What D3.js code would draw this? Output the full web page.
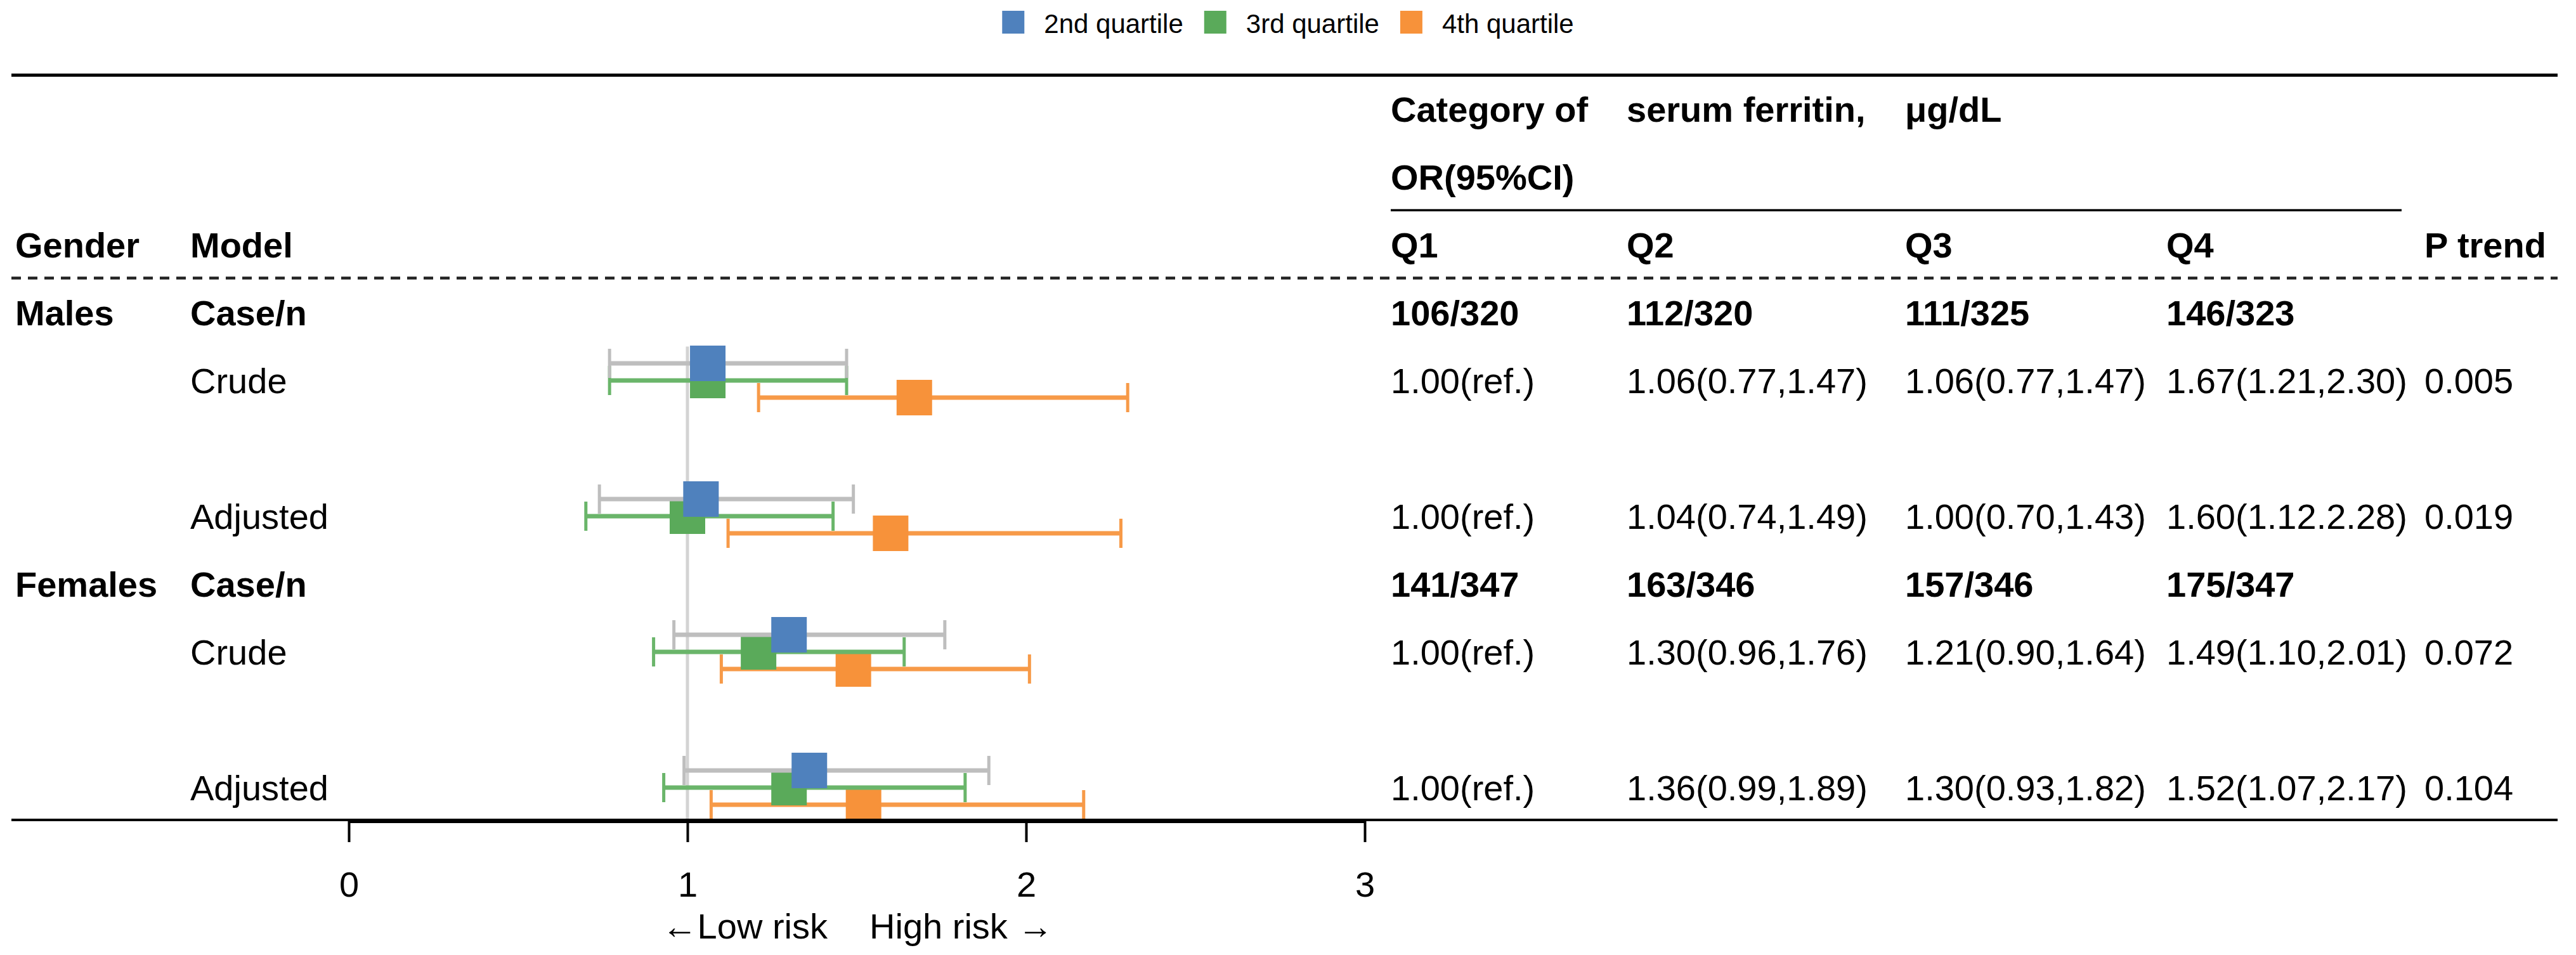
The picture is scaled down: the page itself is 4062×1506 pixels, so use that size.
<!DOCTYPE html>
<html>
<head>
<meta charset="utf-8">
<script src="https://cdn.jsdelivr.net/npm/d3@7"></script>
<style>
  html, body { margin: 0; padding: 0; background: #ffffff; }
  svg { display: block; }
  text { font-family: "Liberation Sans", Arial, Helvetica, sans-serif; fill: #000; }
</style>
</head>
<body>
<svg id="chart" width="4062" height="1506"></svg>
<script>
// ---------------- DATA ----------------
const legendLabels = ["2nd quartile", "3rd quartile", "4th quartile"];
const squareColors = ["#4F81BD", "#5AAA5A", "#F7923A"];
const ciColors = ["#BEBEBE", "#6AB56A", "#F79A48"];

const titleParts = ["Category of", "serum ferritin,", "\u03BCg/dL"];
const subTitle = "OR(95%CI)";
const columnHeaders = ["Gender", "Model", "Q1", "Q2", "Q3", "Q4", "P trend"];

const genders = ["Males", "Females"];
const caseLabel = "Case/n";
const models = ["Crude", "Adjusted"];

const caseN = [
  ["106/320", "112/320", "111/325", "146/323"],
  ["141/347", "163/346", "157/346", "175/347"]
];
const orText = [
  [
    ["1.00(ref.)", "1.06(0.77,1.47)", "1.06(0.77,1.47)", "1.67(1.21,2.30)"],
    ["1.00(ref.)", "1.04(0.74,1.49)", "1.00(0.70,1.43)", "1.60(1.12.2.28)"]
  ],
  [
    ["1.00(ref.)", "1.30(0.96,1.76)", "1.21(0.90,1.64)", "1.49(1.10,2.01)"],
    ["1.00(ref.)", "1.36(0.99,1.89)", "1.30(0.93,1.82)", "1.52(1.07,2.17)"]
  ]
];
const pTrend = [["0.005", "0.019"], ["0.072", "0.104"]];

// estimates [gender][model][quartile Q2,Q3,Q4]
const estimate = [[[1.06, 1.06, 1.67], [1.04, 1.00, 1.60]], [[1.30, 1.21, 1.49], [1.36, 1.30, 1.52]]];
const lower    = [[[0.77, 0.77, 1.21], [0.74, 0.70, 1.12]], [[0.96, 0.90, 1.10], [0.99, 0.93, 1.07]]];
const upper    = [[[1.47, 1.47, 2.30], [1.49, 1.43, 2.28]], [[1.76, 1.64, 2.01], [1.89, 1.82, 2.17]]];

const xTicks = [0, 1, 2, 3];
const refValue = 1;
const riskLow = "\u2190Low risk";
const riskHigh = "High risk \u2192";

// ---------------- LAYOUT ----------------
const W = 4062, H = 1506;
const FS = 56;
const svg = d3.select("#chart");

const x = d3.scaleLinear().domain([0, 3]).range([550, 2152]);
const rowY = d3.scaleLinear().domain([0, 10]).range([172, 1242]);
const rowH = rowY(1) - rowY(0);
const seriesOffset = d3.scalePoint().domain([0, 1, 2]).range([-27, 27]);
const colX = [24, 300, 2193, 2565, 3004, 3416, 3823];
const lineL = 18, lineR = 4033;

function txt(g, s, xx, yy, bold, anchor) {
  return g.append("text")
    .attr("x", xx).attr("y", yy).attr("dy", "0.36em")
    .attr("font-size", FS)
    .attr("font-weight", bold ? "bold" : "normal")
    .attr("text-anchor", anchor || "start")
    .attr("xml:space", "preserve")
    .text(s);
}

// ---------------- LEGEND ----------------
const legend = svg.append("g");
let lx = 0;
const items = [];
legendLabels.forEach((lab, i) => {
  const g = legend.append("g");
  g.append("rect").attr("x", 0).attr("y", 17).attr("width", 35).attr("height", 36)
    .attr("fill", squareColors[i]);
  const t = g.append("text").attr("x", 66).attr("y", 52).attr("font-size", 42).text(lab);
  const w = 66 + t.node().getComputedTextLength();
  items.push({ g, w });
});
const totalW = d3.sum(items, d => d.w) + 33 * (items.length - 1);
lx = W / 2 - totalW / 2;
items.forEach(it => { it.g.attr("transform", `translate(${lx},0)`); lx += it.w + 33; });

// ---------------- TABLE LINES ----------------
svg.append("line").attr("x1", lineL).attr("x2", lineR)
  .attr("y1", rowY(0) - rowH / 2).attr("y2", rowY(0) - rowH / 2)
  .attr("stroke", "#000").attr("stroke-width", 5);

svg.append("line").attr("x1", colX[2]).attr("x2", 3787)
  .attr("y1", rowY(1) + rowH / 2 - 1).attr("y2", rowY(1) + rowH / 2 - 1)
  .attr("stroke", "#000").attr("stroke-width", 3.5);

svg.append("line").attr("x1", lineL).attr("x2", lineR)
  .attr("y1", rowY(2) + rowH / 2 - 1).attr("y2", rowY(2) + rowH / 2 - 1)
  .attr("stroke", "#222").attr("stroke-width", 4.5).attr("stroke-dasharray", "15,11");

svg.append("line").attr("x1", lineL).attr("x2", lineR)
  .attr("y1", 1293).attr("y2", 1293)
  .attr("stroke", "#000").attr("stroke-width", 4);

// ---------------- HEADER TEXT ----------------
const tg = svg.append("g");
titleParts.forEach((s, i) => txt(tg, s, colX[2 + i], rowY(0), true));
txt(tg, subTitle, colX[2], rowY(1), true);
columnHeaders.forEach((s, i) => txt(tg, s, colX[i], rowY(2), true));

// ---------------- BODY TEXT ----------------
genders.forEach((gname, gi) => {
  const gRow = 3 + gi * 4;
  txt(tg, gname, colX[0], rowY(gRow), true);
  txt(tg, caseLabel, colX[1], rowY(gRow), true);
  caseN[gi].forEach((s, q) => txt(tg, s, colX[2 + q], rowY(gRow), true));
  models.forEach((m, mi) => {
    const r = gRow + 1 + mi * 2;
    txt(tg, m, colX[1], rowY(r), false);
    orText[gi][mi].forEach((s, q) => txt(tg, s, colX[2 + q], rowY(r), false));
    txt(tg, pTrend[gi][mi], colX[6], rowY(r), false);
  });
});

// ---------------- FOREST ----------------
const plot = svg.append("g");
plot.append("line")
  .attr("x1", x(refValue)).attr("x2", x(refValue))
  .attr("y1", rowY(4) - rowH / 2).attr("y2", 1293)
  .attr("stroke", "#D3D3D3").attr("stroke-width", 5);

const marks = [];
genders.forEach((g, gi) => models.forEach((m, mi) => {
  const r = 3 + gi * 4 + 1 + mi * 2;
  [2, 1, 0].forEach(s => marks.push({
    s, y: rowY(r) + seriesOffset(s),
    est: estimate[gi][mi][s], lo: lower[gi][mi][s], hi: upper[gi][mi][s]
  }));
}));

const mg = plot.selectAll("g.mark").data(marks).join("g").attr("class", "mark");
mg.append("line")
  .attr("x1", d => x(d.lo)).attr("x2", d => x(d.hi))
  .attr("y1", d => d.y).attr("y2", d => d.y)
  .attr("stroke", d => ciColors[d.s]).attr("stroke-width", 7);
mg.append("line")
  .attr("x1", d => x(d.lo)).attr("x2", d => x(d.lo))
  .attr("y1", d => d.y - 23).attr("y2", d => d.y + 23)
  .attr("stroke", d => ciColors[d.s]).attr("stroke-width", 5);
mg.append("line")
  .attr("x1", d => x(d.hi)).attr("x2", d => x(d.hi))
  .attr("y1", d => d.y - 23).attr("y2", d => d.y + 23)
  .attr("stroke", d => ciColors[d.s]).attr("stroke-width", 5);
mg.append("rect")
  .attr("x", d => x(d.est) - 28).attr("y", d => d.y - 28)
  .attr("width", 56).attr("height", 56)
  .attr("fill", d => squareColors[d.s]);

// ---------------- AXIS ----------------
const axis = d3.axisBottom(x).tickValues(xTicks).tickFormat(d3.format("d"))
  .tickSize(34).tickSizeOuter(0).tickPadding(46);
const ag = svg.append("g").attr("transform", "translate(0,1294)").call(axis);
ag.select(".domain").attr("stroke", "#000").attr("stroke-width", 7);
ag.selectAll(".tick line").attr("stroke", "#000").attr("stroke-width", 4);
ag.selectAll(".tick text").attr("font-size", FS).attr("fill", "#000")
  .attr("font-family", "\"Liberation Sans\", Arial, sans-serif");

const mid = x(1.5);
svg.append("text").attr("x", mid - 46).attr("y", 1480).attr("font-size", FS)
  .attr("text-anchor", "end").text(riskLow);
svg.append("text").attr("x", mid + 20).attr("y", 1480).attr("font-size", FS)
  .attr("text-anchor", "start").text(riskHigh);
</script>
</body>
</html>
